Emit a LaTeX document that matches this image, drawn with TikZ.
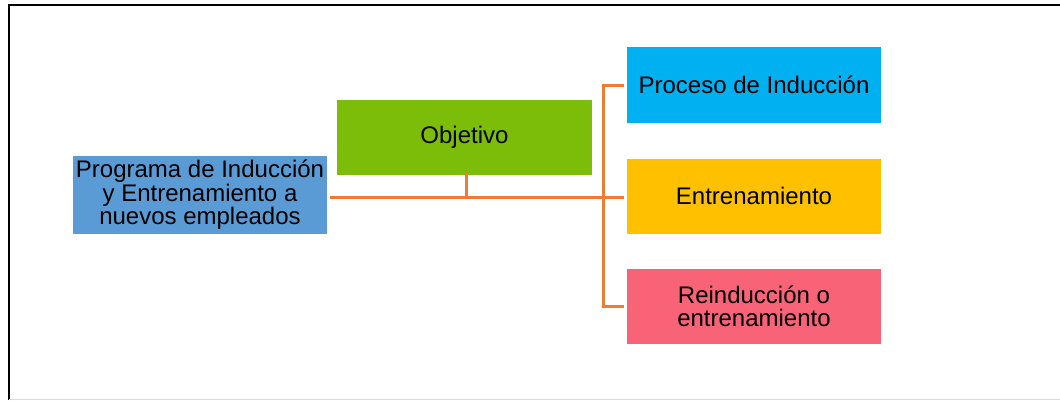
\documentclass[tikz,border=0pt]{standalone}
\usepackage{fontspec}
\setmainfont{Liberation Sans}
\usepackage{xcolor}

\definecolor{progblue}{HTML}{5B9BD5}
\definecolor{objgreen}{HTML}{7CBD0A}
\definecolor{procblue}{HTML}{00B0F0}
\definecolor{entyellow}{HTML}{FFC000}
\definecolor{reinpink}{HTML}{F96378}
\definecolor{linkorange}{HTML}{ED7D31}

\tikzset{
    box/.style={rectangle,inner sep=0pt,align=center,text=black,
        font=\fontsize{24}{23.5}\selectfont},
    link/.style={linkorange,line width=3pt}
}

\begin{document}
\begin{tikzpicture}[x=1pt,y=-1pt]
    \useasboundingbox (0,0) rectangle (1060,400);
    % frame
    \draw[line width=2.5pt] (9,400) -- (9,5) -- (1060,5);
    \draw[gray!30,line width=1pt] (9,399.5) -- (1060,399.5);

    % boxes
    \node[box,fill=progblue,minimum width=254pt,minimum height=78pt] (prog) at (200,195) {Programa de Inducción\\y Entrenamiento a\\nuevos empleados};
    \node[box,fill=objgreen,minimum width=255pt,minimum height=75pt] (obj) at (464.5,137.5) {Objetivo};
    \node[box,fill=procblue,minimum width=254pt,minimum height=76pt] (proc) at (754,85) {Proceso de Inducción};
    \node[box,fill=entyellow,minimum width=254pt,minimum height=75pt] (ent) at (754,196) {Entrenamiento};
    \node[box,fill=reinpink,minimum width=254pt,minimum height=75pt] (rein) at (754,306.5) {Reinducción o\\entrenamiento};

    % connectors
    \coordinate (bus) at (603,197);
    \coordinate (stub) at (466,197);
    \draw[link] ([xshift=3pt]prog.east |- bus) -- ([xshift=-3pt]ent.west |- bus);
    \draw[link] ([yshift=3pt]obj.south -| stub) -- (stub);
    \draw[link] ([xshift=-3pt]proc.west) -| (bus) |- ([xshift=-3pt]rein.west);
\end{tikzpicture}
\end{document}
